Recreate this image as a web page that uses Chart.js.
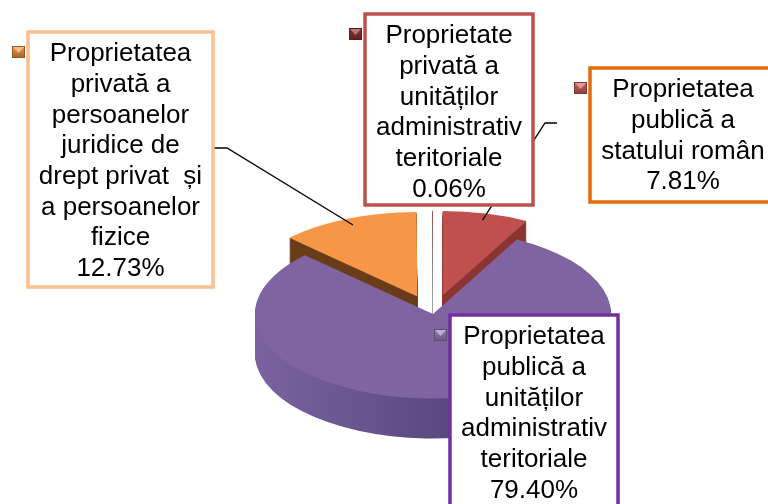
<!DOCTYPE html>
<html>
<head>
<meta charset="utf-8">
<script src="https://cdn.jsdelivr.net/npm/chart.js@4.4.1/dist/chart.umd.min.js"></script>
<style>
  html, body { margin: 0; padding: 0; background: #fff; }
  #wrap { width: 768px; height: 504px; position: relative; }
</style>
</head>
<body>
<div id="wrap"><canvas id="pie"></canvas></div>
<script>
// data, in Excel order (starting at 12 o'clock, clockwise)
const categories = [
    'Proprietatea publică a statului român',
    'Proprietatea publică a unităților administrativ teritoriale',
    'Proprietatea privată a persoanelor juridice de drept privat  și a persoanelor fizice',
    'Proprietate privată a unităților administrativ teritoriale'
];
const shares = [7.81, 79.40, 12.73, 0.06];
const labelLines = [
    ['Proprietatea', 'publică a', 'statului român'],
    ['Proprietatea', 'publică a', 'unităților', 'administrativ', 'teritoriale'],
    ['Proprietatea', 'privată a', 'persoanelor', 'juridice de', 'drept privat  și', 'a persoanelor', 'fizice'],
    ['Proprietate', 'privată a', 'unităților', 'administrativ', 'teritoriale']
];

// styles
const topColors = ['#C0504D', '#8064A2', '#F79646', '#8C3A37'];
const markerColors = ['#D0605C', '#9A82BE', '#F79646', '#8A3330'];
const boxBorders = ['#E46C0A', '#7030A0', '#FAC090', '#C0504D'];
const explode = [40, 0, 40, 40];
const K = 0.475;     // vertical squash of the pie
const DEPTH = 40;    // thickness in px

// label boxes
const boxes = [
    { x: 590, y: 68, w: 186, h: 134 },
    { x: 450, y: 315, w: 168, h: 200 },
    { x: 28, y: 32, w: 185, h: 255 },
    { x: 365, y: 14, w: 168, h: 191 }
];
const leaders = { 0: [[557, 123], [545, 123]], 2: [[213, 148], [227, 148]] };

function paintArc(ctx, arc, i, cx, cy, dy, color) {
    const mid = (arc.startAngle + arc.endAngle) / 2;
    const ex = Math.cos(mid) * explode[i];
    const ey = Math.sin(mid) * explode[i];
    ctx.save();
    ctx.translate(cx + ex, cy + ey * K + dy);
    ctx.scale(1, K);
    ctx.translate(-cx, -cy);
    const saved = arc.options;
    arc.options = { ...saved, backgroundColor: color, borderWidth: 0 };
    arc.draw(ctx);
    arc.options = saved;
    ctx.restore();
}

function anchorPoint(arc, i) {
    const mid = (arc.startAngle + arc.endAngle) / 2;
    const r = arc.outerRadius * 0.92 + explode[i];
    return [arc.x + Math.cos(mid) * r, arc.y + Math.sin(mid) * r * K];
}

function drawMarker(ctx, x, y, color) {
    const w = 13, h = 12;
    ctx.save();
    const g = ctx.createLinearGradient(0, y, 0, y + h);
    g.addColorStop(0, color);
    g.addColorStop(1, shade(color, -0.35));
    ctx.fillStyle = g;
    ctx.fillRect(x, y, w, h);
    ctx.fillStyle = shade(color, 0.35);
    ctx.beginPath();
    ctx.moveTo(x + 1, y + 1);
    ctx.lineTo(x + w - 1, y + 1);
    ctx.lineTo(x + w / 2, y + h / 2 + 1);
    ctx.closePath();
    ctx.fill();
    ctx.strokeStyle = shade(color, -0.4);
    ctx.lineWidth = 1;
    ctx.strokeRect(x + 0.5, y + 0.5, w - 1, h - 1);
    ctx.restore();
}

function shade(hex, f) {
    const n = parseInt(hex.slice(1), 16);
    let r = n >> 16, g = (n >> 8) & 255, b = n & 255;
    const t = f < 0 ? 0 : 255, p = Math.abs(f);
    r = Math.round((t - r) * p + r);
    g = Math.round((t - g) * p + g);
    b = Math.round((t - b) * p + b);
    return `rgb(${r},${g},${b})`;
}

const pie3d = {
    id: 'pie3d',
    beforeDatasetsDraw(chart) {
        const ctx = chart.ctx;
        const arcs = chart.getDatasetMeta(0).data;
        const cx = arcs[0].x, cy = arcs[0].y, R = arcs[0].outerRadius;
        const purpleSide = ctx.createLinearGradient(cx - R, 0, cx + R, 0);
        purpleSide.addColorStop(0, '#7A63A0');
        purpleSide.addColorStop(0.5, '#5D4A82');
        purpleSide.addColorStop(1, '#3F3059');
        const sides = ['#8A3532', purpleSide, '#6A3D1A', '#9C9C9C'];
        const order = [2, 3, 0, 1];
        for (let d = DEPTH; d >= 1; d--) {
            order.forEach(i => paintArc(ctx, arcs[i], i, cx, cy, d, sides[i]));
        }
        order.forEach(i => paintArc(ctx, arcs[i], i, cx, cy, 0, topColors[i]));
        return false;
    },
    afterDraw(chart) {
        const ctx = chart.ctx;
        const arcs = chart.getDatasetMeta(0).data;

        ctx.save();
        ctx.strokeStyle = '#000';
        ctx.lineWidth = 1.3;
        Object.keys(leaders).forEach(k => {
            const i = +k;
            const pts = leaders[k].concat([anchorPoint(arcs[i], i)]);
            ctx.beginPath();
            ctx.moveTo(pts[0][0], pts[0][1]);
            pts.slice(1).forEach(p => ctx.lineTo(p[0], p[1]));
            ctx.stroke();
        });
        ctx.restore();

        ctx.save();
        ctx.font = '26px "Liberation Sans", Arial, sans-serif';
        ctx.textAlign = 'center';
        ctx.textBaseline = 'middle';
        boxes.forEach((b, i) => {
            ctx.fillStyle = '#fff';
            ctx.fillRect(b.x, b.y, b.w, b.h);
            ctx.strokeStyle = boxBorders[i];
            ctx.lineWidth = 3.5;
            ctx.strokeRect(b.x, b.y, b.w, b.h);
            ctx.fillStyle = '#000';
            const lines = labelLines[i].concat([shares[i].toFixed(2) + '%']);
            lines.forEach((t, j) => {
                ctx.fillText(t, b.x + b.w / 2, b.y + 22 + j * 30.7);
            });
            drawMarker(ctx, b.x - 16, b.y + 14, markerColors[i]);
        });
        ctx.restore();
    }
};

new Chart(document.getElementById('pie'), {
    type: 'pie',
    data: {
        labels: categories,
        datasets: [{
            data: shares,
            backgroundColor: topColors,
            borderWidth: 0,
            clip: false
        }]
    },
    options: {
        responsive: true,
        maintainAspectRatio: false,
        animation: false,
        events: [],
        radius: 178,
        layout: { padding: { left: 98, right: 0, top: 124, bottom: 0 } },
        plugins: {
            legend: { display: false },
            tooltip: { enabled: false }
        }
    },
    plugins: [pie3d]
});
</script>
</body>
</html>
